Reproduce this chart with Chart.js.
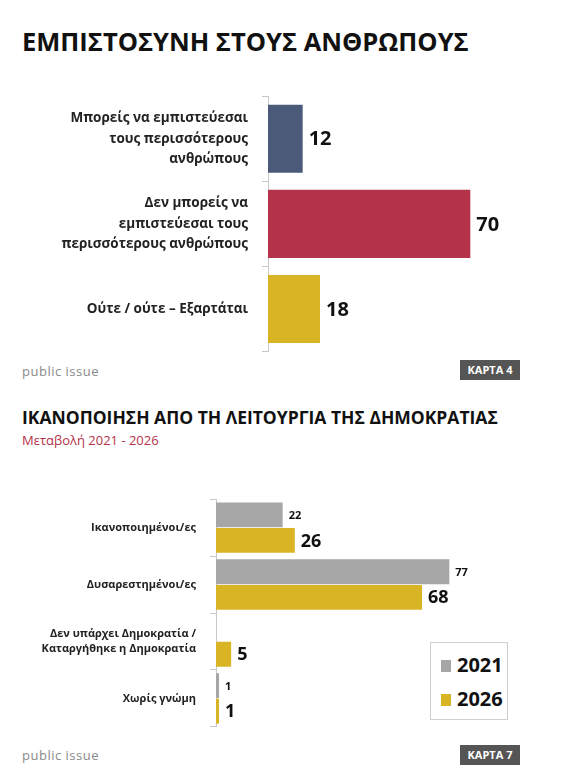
<!DOCTYPE html>
<html><head><meta charset="utf-8">
<script src="https://cdn.jsdelivr.net/npm/chart.js@4"></script>
<style>
body{margin:0;width:578px;height:770px;background:#fff;font-family:"Open Sans",sans-serif;position:relative;overflow:hidden}
.t{position:absolute;white-space:nowrap}
.pi{color:#8a8a8a;font-size:13px;letter-spacing:0.5px}
.badge{position:absolute;background:#555;color:#fff;font-weight:bold;font-size:11px;width:60px;height:20px;line-height:20px;text-align:center}
canvas{position:absolute;left:0}
#leg{position:absolute;left:430px;top:642px;width:76px;height:76px;border:1px solid #d0d0d0;background:#fff;font-weight:bold;font-size:20px;color:#111}
#leg div{position:absolute;left:10px}
#leg span{display:inline-block;width:10px;height:12px;margin-right:6px}
</style></head><body>
<div class="t" style="left:22px;top:24px;font-size:25.5px;font-weight:bold;color:#111">ΕΜΠΙΣΤΟΣΥΝΗ ΣΤΟΥΣ ΑΝΘΡΩΠΟΥΣ</div>
<div class="t pi" style="left:22px;top:362px">public issue</div>
<div class="badge" style="left:460px;top:360px">ΚΑΡΤΑ 4</div>
<div class="t" style="left:22px;top:405px;font-size:17.5px;font-weight:bold;color:#111">ΙΚΑΝΟΠΟΙΗΣΗ ΑΠΟ ΤΗ ΛΕΙΤΟΥΡΓΙΑ ΤΗΣ ΔΗΜΟΚΡΑΤΙΑΣ</div>
<div class="t" style="left:22px;top:431px;font-size:13px;color:#b5334a">Μεταβολή 2021 - 2026</div>
<div class="t pi" style="left:22px;top:746px">public issue</div>
<div class="badge" style="left:460px;top:745px">ΚΑΡΤΑ 7</div>
<canvas id="c1" width="578" height="324" style="top:72px;width:578px;height:324px"></canvas>
<canvas id="c2" width="578" height="270" style="top:478px;width:578px;height:270px"></canvas>
<div id="leg"><div style="top:8px"><span style="background:#a6a6a6"></span>2021</div><div style="top:42px"><span style="background:#d9b424"></span>2026</div></div>
<script>
const cats1=[["Μπορείς να εμπιστεύεσαι","τους περισσότερους","ανθρώπους"],["Δεν μπορείς να","εμπιστεύεσαι τους","περισσότερους ανθρώπους"],["Ούτε / ούτε – Εξαρτάται"]];
const vals1=[12,70,18];
const colors1=["#4a5a78","#b5334a","#d9b424"];
const cats2=["Ικανοποιημένοι/ες","Δυσαρεστημένοι/ες",["Δεν υπάρχει Δημοκρατία /","Καταργήθηκε η Δημοκρατία"],"Χωρίς γνώμη"];
const vals2021=[22,77,null,1];
const vals2026=[26,68,5,1];

const labelsPlugin={id:'vl',afterDatasetsDraw(chart){
  const ctx=chart.ctx;ctx.save();ctx.fillStyle='#111';ctx.textBaseline='middle';
  chart.data.datasets.forEach((ds,di)=>{
    const meta=chart.getDatasetMeta(di);const sz=ds.lblSize||18;
    ctx.font='bold '+sz+'px "Open Sans"';
    meta.data.forEach((el,i)=>{const v=ds.data[i];if(v==null)return;ctx.fillText(String(v),el.x+6,el.y+1);});
  });ctx.restore();}};

function yAxis(w,fs,lh){return{position:'left',afterFit(s){s.width=w;},
  ticks:{color:'#222',font:{family:'"Open Sans"',weight:'bold',size:fs,lineHeight:lh},padding:14},
  grid:{offset:true,drawOnChartArea:false,tickLength:6,color:'#c8c8c8'},border:{color:'#c8c8c8'}};}

new Chart(document.getElementById('c1'),{type:'bar',
 data:{labels:cats1,datasets:[{data:vals1,backgroundColor:colors1,categoryPercentage:0.8,barPercentage:1,lblSize:20}]},
 options:{indexAxis:'y',responsive:false,animation:false,layout:{padding:{top:5,bottom:8,right:21}},
  plugins:{legend:{display:false},tooltip:{enabled:false}},
  scales:{x:{display:false,min:0,max:100},y:yAxis(268,13.5,1.5)}},plugins:[labelsPlugin]});

new Chart(document.getElementById('c2'),{type:'bar',
 data:{labels:cats2,datasets:[
  {data:vals2021,backgroundColor:'#a6a6a6',categoryPercentage:0.9,barPercentage:0.97,lblSize:11},
  {data:vals2026,backgroundColor:'#d9b424',categoryPercentage:0.9,barPercentage:0.97,lblSize:18}]},
 options:{indexAxis:'y',responsive:false,animation:false,layout:{padding:{top:7,bottom:8,right:59}},
  plugins:{legend:{display:false},tooltip:{enabled:false}},
  scales:{x:{display:false,min:0,max:100},y:yAxis(216,11,1.3)}},plugins:[labelsPlugin]});
</script></body></html>
